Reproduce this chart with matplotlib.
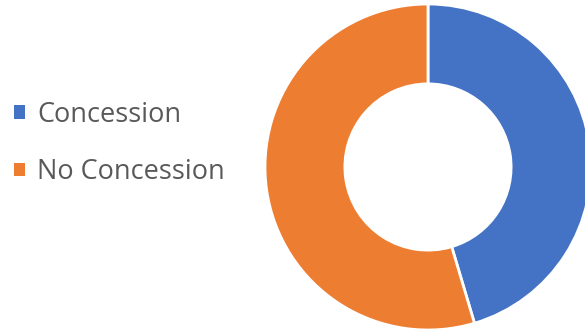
import matplotlib.pyplot as plt

# Data
labels = ["Concession", "No Concession"]
values = [45.4, 54.6]
colors = ["#4472C4", "#ED7D31"]

plt.rcParams['font.family'] = ['Open Sans', 'DejaVu Sans']

fig = plt.figure(figsize=(5.85, 3.32), dpi=100)
fig.patch.set_facecolor("white")

# donut axes: centre ~ (428, 167) px, radius ~163 px
ax = fig.add_axes([265 / 585, 2 / 332, 326 / 585, 326 / 332])
wedges, _ = ax.pie(values, colors=colors, startangle=90, counterclock=False,
                   radius=1.0,
                   wedgeprops=dict(width=0.49, edgecolor="white", linewidth=2))
ax.set_xlim(-1.0, 1.0)
ax.set_ylim(-1.0, 1.0)
ax.set_aspect("equal")
ax.axis("off")

leg = fig.legend(wedges, labels, loc="center left", bbox_to_anchor=(-0.0135, 0.568),
                 frameon=False, fontsize=19.5, labelcolor="#595959",
                 handlelength=0.4, handleheight=0.4, handletextpad=0.47,
                 labelspacing=1.1, borderpad=0.3)
for h in leg.legend_handles:
    h.set_linewidth(0)

fig.savefig("out.png", dpi=100)
